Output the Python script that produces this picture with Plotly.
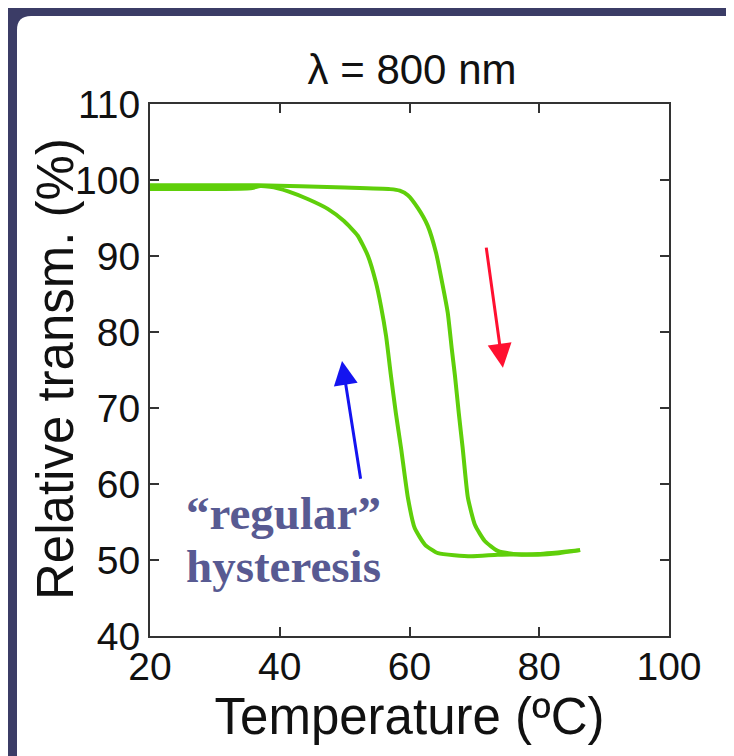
import plotly.graph_objects as go

# ---- data ----
cool_T = [20, 30, 35.5, 37.0, 38.5, 39.7, 41.3, 44.3, 47.4, 49.9, 52.0, 53.6,
          54.8, 55.6, 56.4, 57.1, 57.9, 58.7, 59.75, 60.8, 62.4,
          64.4, 69.5, 73.6, 79.8, 86.3]
cool_R = [98.8, 98.8, 98.9, 99.2, 99.1, 98.9, 98.5, 97.5, 96.2, 94.6, 92.7, 90.0,
          86.6, 83.4, 79.4, 74.5, 69.3, 64.7, 58.2, 54.2, 52.0,
          50.9, 50.5, 50.7, 50.8, 51.3]

heat_T = [20, 36.6, 50.0, 57.0, 58.5, 59.75, 61.3, 62.8, 64.1, 65.1, 65.9, 66.5,
          67.0, 67.6, 68.2, 69.0, 70.1, 71.6, 73.6, 76.0, 79.8, 83.0, 86.3]
heat_R = [99.3, 99.3, 99.0, 98.8, 98.6, 98.0, 96.3, 94.0, 90.4, 86.2, 82.5, 77.9,
          74.3, 69.3, 64.7, 58.2, 54.6, 52.5, 51.2, 50.8, 50.7, 50.9, 51.3]

x_ticks = [20, 40, 60, 80, 100]
y_ticks = [40, 50, 60, 70, 80, 90, 100, 110]

# arrows: (tail_T, tail_R, head_T, head_R)
heat_arrow = (71.8, 91.3, 74.4, 75.3)
cool_arrow = (52.5, 60.5, 49.6, 76.2)

title_text = "λ = 800 nm"
x_title = "Temperature (ºC)"
y_title = "Relative transm. (%)"
note_line1 = "“regular”"
note_line2 = "hysteresis"

GREEN = "#5fcf0a"
FONT = "Liberation Sans, Arial, sans-serif"

fig = go.Figure()
for T, R in ((cool_T, cool_R), (heat_T, heat_R)):
    fig.add_trace(go.Scatter(x=T, y=R, mode="lines",
                             line=dict(color=GREEN, width=4, shape="spline", smoothing=0.5),
                             showlegend=False, hoverinfo="skip"))

# plot-area geometry in pixels
L, W = 142, 519
T_PX, B = 96, 628
H = B - T_PX
def px(xp):
    return (xp - L) / W
def py(yp):
    return (B - yp) / H

# white rounded panel over dark frame
x0, y0 = px(9), py(8)
x1, y1 = px(760), py(780)
r = 14
path = (f"M {px(9)} {py(8 + r)} Q {px(9)} {py(8)} {px(9 + r)} {py(8)} "
        f"L {x1} {y0} L {x1} {y1} L {x0} {y1} Z")
fig.add_shape(type="path", path=path, xref="paper", yref="paper",
              fillcolor="white", line=dict(width=0), layer="below")

for (t0, r0, t1, r1), col in ((heat_arrow, "#ff1030"), (cool_arrow, "#1414f0")):
    fig.add_annotation(x=t1, y=r1, ax=t0, ay=r0, xref="x", yref="y",
                       axref="x", ayref="y", text="", showarrow=True,
                       arrowhead=2, arrowsize=1.6, arrowwidth=3, arrowcolor=col)

NOTE_FONT = dict(family="Liberation Serif, Times New Roman, serif", size=47,
                 color="#585a92", weight="bold")
fig.add_annotation(x=40.6, y=py(505) * 70 + 40, xref="x", yref="y", text=note_line1,
                   showarrow=False, font=NOTE_FONT)
fig.add_annotation(x=40.6, y=py(558) * 70 + 40, xref="x", yref="y", text=note_line2,
                   showarrow=False, font=NOTE_FONT)

# y-axis title
fig.add_annotation(x=px(47), y=py(361), xref="paper", yref="paper", text=y_title,
                   textangle=-90, showarrow=False, xanchor="center", yanchor="middle",
                   font=dict(family=FONT, size=51, color="#111111"))

axis_common = dict(showline=True, linecolor="#333333", linewidth=2, mirror="ticks",
                   ticks="inside", ticklen=9, tickwidth=2, tickcolor="#333333",
                   showgrid=False, zeroline=False,
                   tickfont=dict(family=FONT, size=39, color="#111111"))

fig.update_xaxes(range=[20, 100], tickvals=x_ticks, title_text=x_title,
                 title_font=dict(family=FONT, size=51, color="#111111"),
                 title_standoff=3, ticklabelstandoff=-5, **axis_common)
fig.update_yaxes(range=[40, 110], tickvals=y_ticks, **axis_common)

fig.update_layout(
    width=734, height=756,
    margin=dict(l=L, r=734 - L - W, t=T_PX, b=756 - B, autoexpand=False),
    paper_bgcolor="#3b3c66", plot_bgcolor="white",
    title=dict(text=title_text, x=px(404), xref="paper", y=1 - 61 / 756,
               yref="container", xanchor="center", yanchor="middle",
               font=dict(family=FONT, size=42, color="#111111")),
)

fig.write_html("out.html")
